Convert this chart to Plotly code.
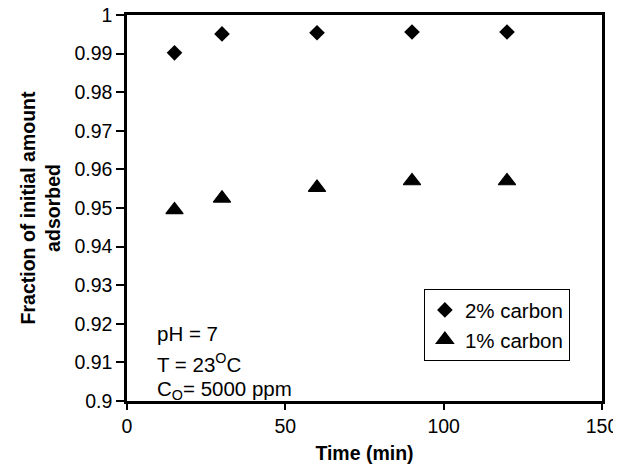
import plotly.graph_objects as go

time_min = [15, 30, 60, 90, 120]
carbon_2pct = [0.9902, 0.9951, 0.9954, 0.9956, 0.9956]
carbon_1pct = [0.9495, 0.9525, 0.9553, 0.9570, 0.9570]
x_ticks = [0, 50, 100, 150]
y_ticks = [0.9, 0.91, 0.92, 0.93, 0.94, 0.95, 0.96, 0.97, 0.98, 0.99, 1.0]
y_labels = ["0.9", "0.91", "0.92", "0.93", "0.94", "0.95", "0.96", "0.97", "0.98", "0.99", "1"]
notes = ["pH = 7", "T = 23<sup>O</sup>C", "C<sub>O</sub>= 5000 ppm"]
note_y = [0.176, 0.098, 0.0285]

FONT = "Liberation Sans, Arial, sans-serif"

fig = go.Figure()
fig.add_trace(go.Scatter(x=time_min, y=carbon_2pct, mode="markers", name="2% carbon",
                         marker=dict(symbol="diamond", size=12, color="black")))
fig.add_trace(go.Scatter(x=time_min, y=carbon_1pct, mode="markers", name="1% carbon",
                         marker=dict(symbol="triangle-up", size=15, color="black",
                                     line=dict(width=1.2, color="black"))))

# page body has an 8px margin; figure sized so that it ends at the window edge
fig.update_layout(
    width=613, height=456,
    margin=dict(l=119, r=19, t=7, b=63),
    paper_bgcolor="white", plot_bgcolor="white",
    font=dict(family=FONT, size=19.5, color="black"),
    showlegend=True,
    legend=dict(x=0.625, y=0.29, xanchor="left", yanchor="top",
                bordercolor="black", borderwidth=1, bgcolor="white",
                font=dict(size=20.5), itemwidth=30, tracegroupgap=0),
    xaxis=dict(range=[0, 150], tickvals=x_ticks, showgrid=False, zeroline=False,
               automargin=False, ticklabeloverflow="allow",
               showline=True, linecolor="black", linewidth=2.5, mirror=True,
               ticks="outside", ticklen=6, tickwidth=1.5, tickcolor="black",
               title=dict(text="<b>Time (min)</b>", font=dict(size=19.5), standoff=12),
               tickfont=dict(size=19.5)),
    yaxis=dict(range=[0.9, 1.0], tickvals=y_ticks, ticktext=y_labels, showgrid=False,
               automargin=False, ticklabeloverflow="allow",
               zeroline=False, showline=True, linecolor="black", linewidth=2.5, mirror=True,
               ticks="outside", ticklen=8, tickwidth=1.5, tickcolor="black",
               title=dict(text="<b>Fraction of initial amount<br>adsorbed</b>", font=dict(size=19.5), standoff=9),
               tickfont=dict(size=19.5)),
)

for txt, yy in zip(notes, note_y):
    fig.add_annotation(xref="paper", yref="paper", x=0.058, y=yy, xanchor="left", yanchor="middle",
                       align="left", showarrow=False, font=dict(size=20.5), text=txt)

fig.write_html("out.html")
